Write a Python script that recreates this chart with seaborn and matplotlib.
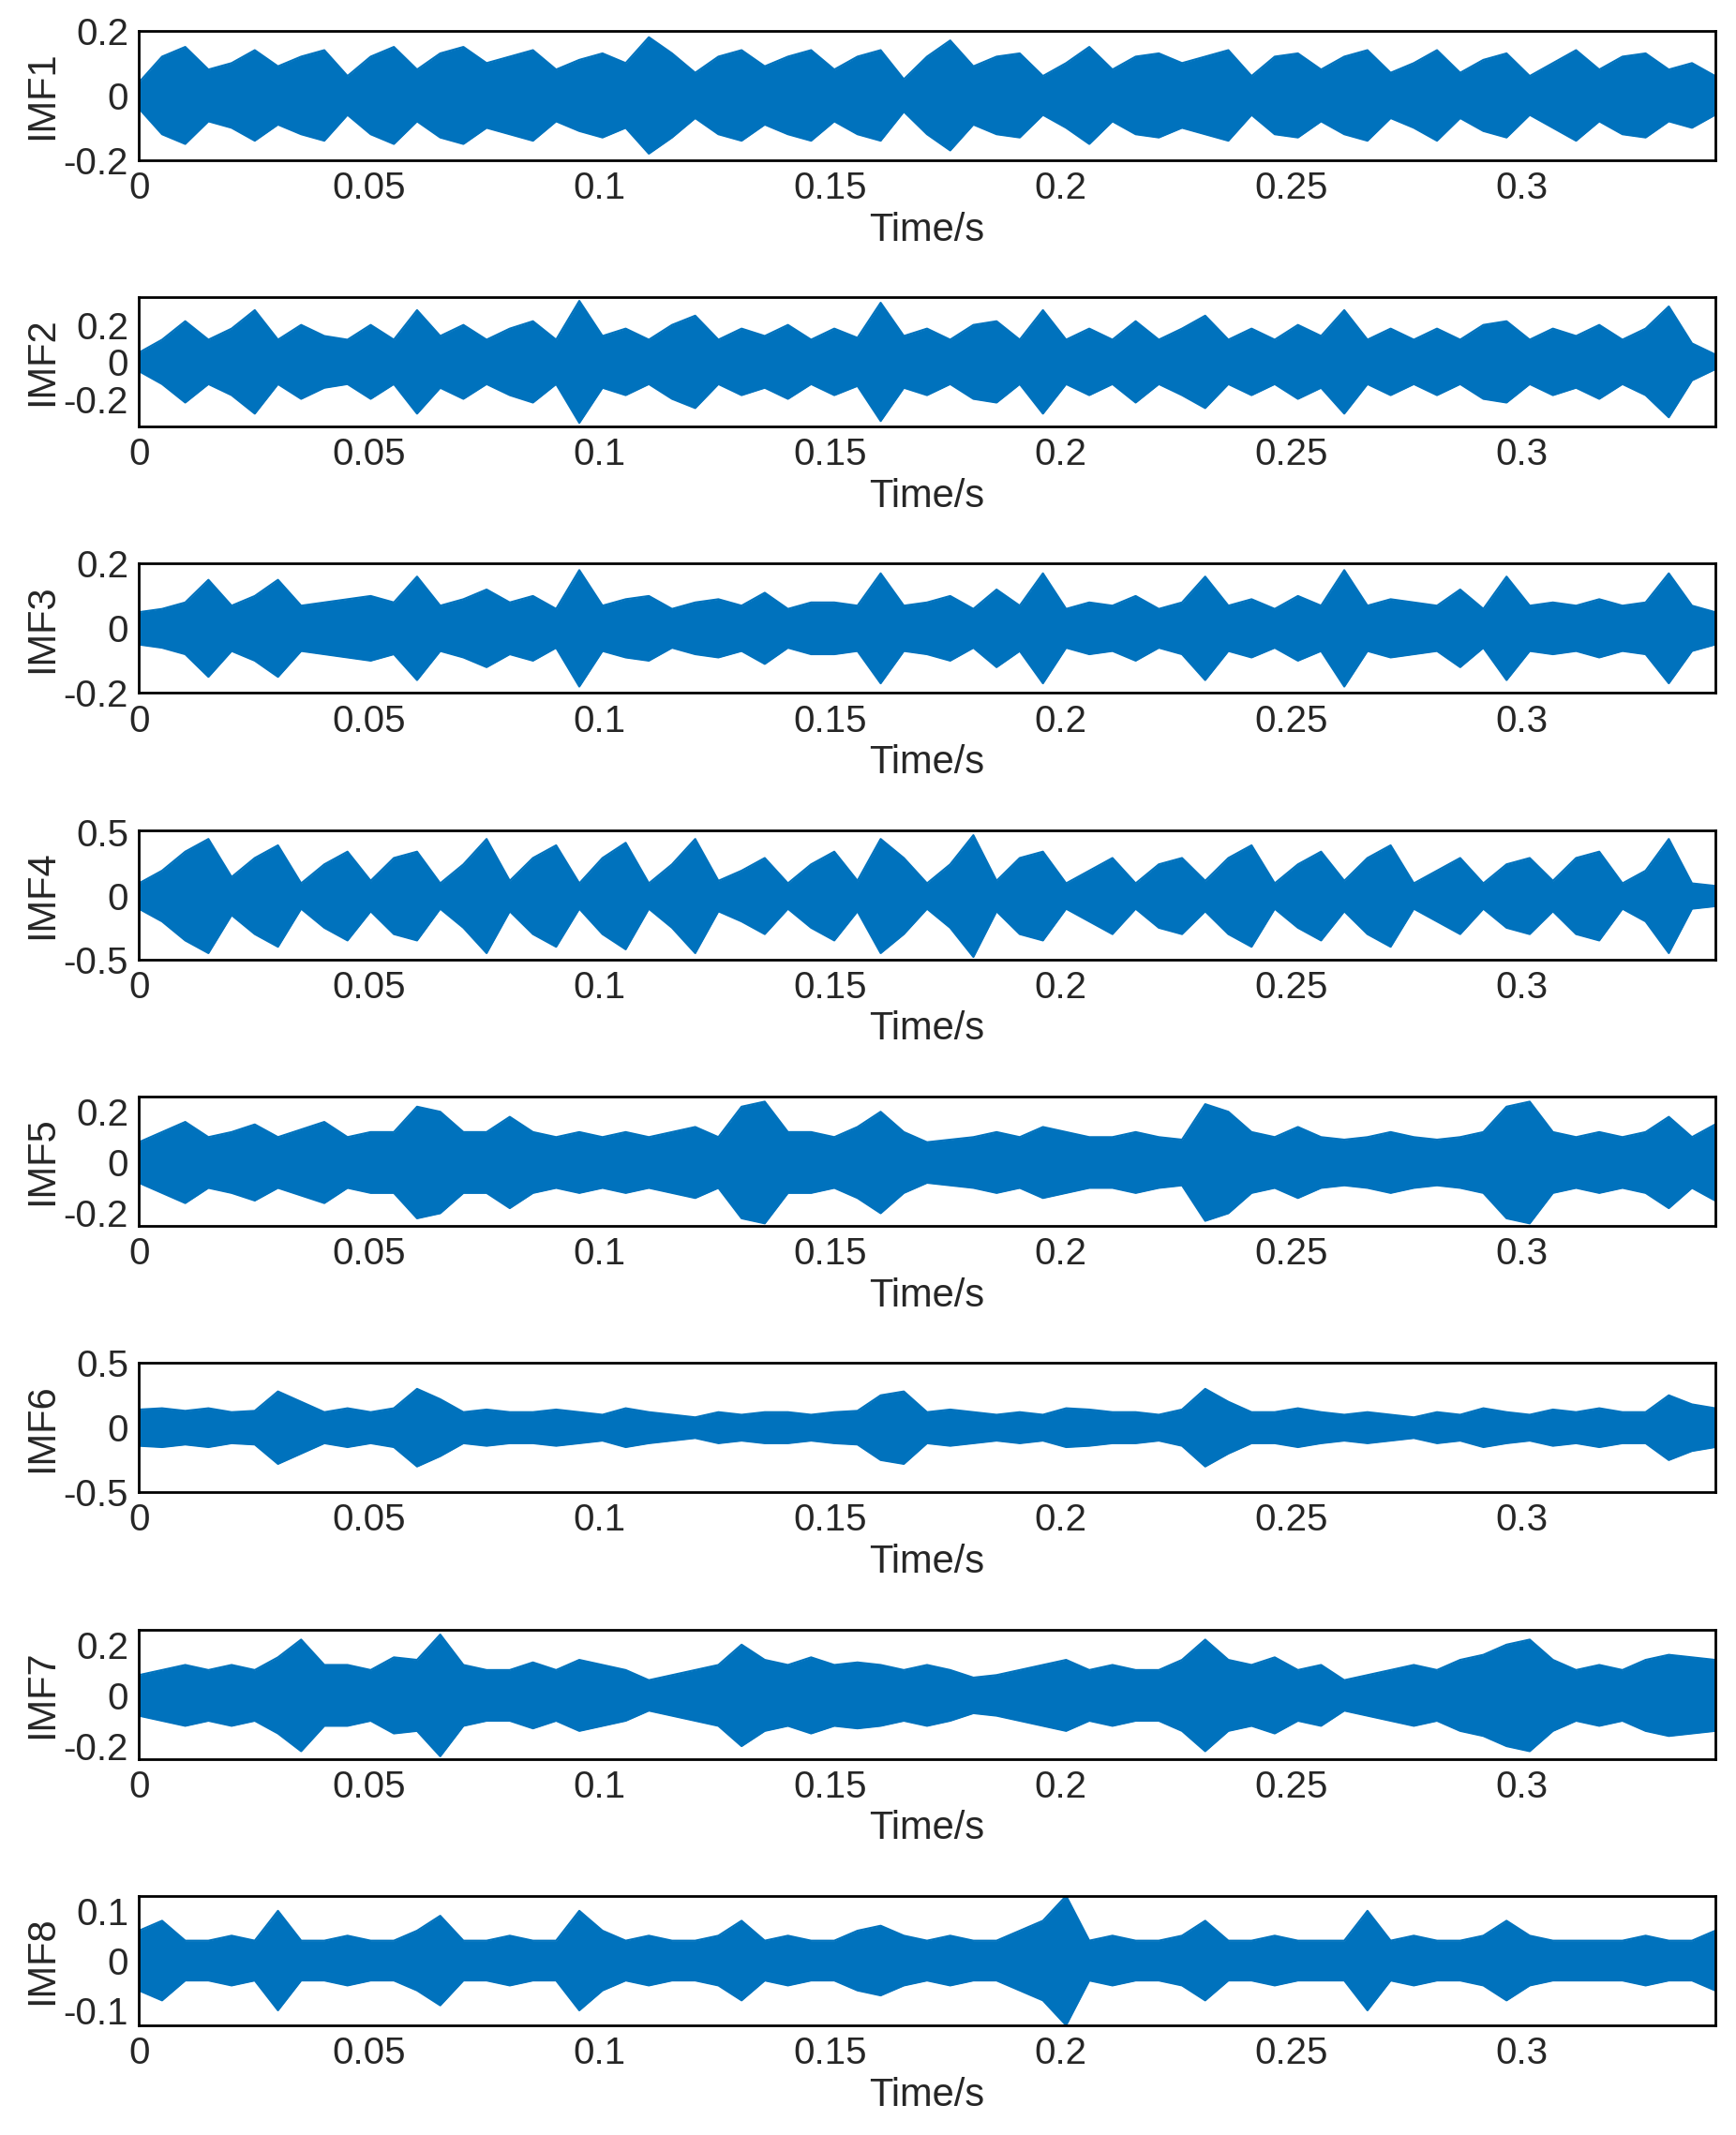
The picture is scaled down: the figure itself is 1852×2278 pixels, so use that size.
import numpy as np
import matplotlib
matplotlib.use('Agg')
import matplotlib.pyplot as plt
import seaborn as sns

sns.set_style('white')
plt.rcParams['font.family'] = ['Liberation Sans', 'DejaVu Sans']

# envelope amplitude read every 0.005 s (0 .. 0.34 s)
imf1 = [0.04,0.12,0.15,0.08,0.10,0.14,0.09,0.12,0.14,0.06,0.12,0.15,0.08,0.13,0.15,0.10,0.12,0.14,0.08,0.11,
        0.13,0.10,0.18,0.13,0.07,0.12,0.14,0.09,0.12,0.14,0.08,0.12,0.14,0.05,0.12,0.17,0.09,0.12,0.13,0.06,
        0.10,0.15,0.08,0.12,0.13,0.10,0.12,0.14,0.06,0.12,0.13,0.08,0.12,0.14,0.07,0.10,0.14,0.07,0.11,0.13,
        0.06,0.10,0.14,0.08,0.12,0.13,0.08,0.10,0.06]
imf2 = [0.05,0.12,0.22,0.12,0.18,0.28,0.12,0.20,0.14,0.12,0.20,0.12,0.28,0.14,0.20,0.12,0.18,0.22,0.12,0.33,
        0.14,0.18,0.12,0.20,0.25,0.12,0.18,0.14,0.20,0.12,0.18,0.13,0.32,0.14,0.18,0.12,0.20,0.22,0.12,0.28,
        0.12,0.18,0.12,0.22,0.12,0.18,0.25,0.12,0.18,0.12,0.20,0.14,0.28,0.12,0.18,0.12,0.18,0.12,0.20,0.22,
        0.12,0.18,0.14,0.20,0.12,0.18,0.30,0.10,0.04]
imf3 = [0.05,0.06,0.08,0.15,0.07,0.10,0.15,0.07,0.08,0.09,0.10,0.08,0.16,0.07,0.09,0.12,0.08,0.10,0.06,0.18,
        0.07,0.09,0.10,0.06,0.08,0.09,0.07,0.11,0.06,0.08,0.08,0.07,0.17,0.07,0.08,0.10,0.06,0.12,0.07,0.17,
        0.06,0.08,0.07,0.10,0.06,0.08,0.16,0.07,0.09,0.06,0.10,0.07,0.18,0.07,0.09,0.08,0.07,0.12,0.06,0.16,
        0.07,0.08,0.07,0.09,0.07,0.08,0.17,0.07,0.05]
imf4 = [0.10,0.20,0.35,0.45,0.15,0.30,0.40,0.10,0.25,0.35,0.12,0.30,0.35,0.10,0.25,0.45,0.12,0.30,0.40,0.10,
        0.30,0.42,0.10,0.25,0.45,0.12,0.20,0.30,0.10,0.25,0.35,0.12,0.45,0.30,0.10,0.25,0.48,0.12,0.30,0.35,
        0.10,0.20,0.30,0.10,0.25,0.30,0.12,0.30,0.40,0.10,0.25,0.35,0.12,0.30,0.40,0.10,0.20,0.30,0.10,0.25,
        0.30,0.12,0.30,0.35,0.10,0.20,0.45,0.10,0.08]
imf5 = [0.08,0.12,0.16,0.10,0.12,0.15,0.10,0.13,0.16,0.10,0.12,0.12,0.22,0.20,0.12,0.12,0.18,0.12,0.10,0.12,
        0.10,0.12,0.10,0.12,0.14,0.10,0.22,0.24,0.12,0.12,0.10,0.14,0.20,0.12,0.08,0.09,0.10,0.12,0.10,0.14,
        0.12,0.10,0.10,0.12,0.10,0.09,0.23,0.20,0.12,0.10,0.14,0.10,0.09,0.10,0.12,0.10,0.09,0.10,0.12,0.22,
        0.24,0.12,0.10,0.12,0.10,0.12,0.18,0.10,0.15]
imf6 = [0.14,0.15,0.13,0.15,0.12,0.13,0.28,0.20,0.12,0.15,0.12,0.15,0.30,0.22,0.12,0.14,0.12,0.12,0.14,0.12,
        0.10,0.15,0.12,0.10,0.08,0.12,0.10,0.12,0.12,0.10,0.12,0.13,0.25,0.28,0.12,0.14,0.12,0.10,0.12,0.10,
        0.15,0.14,0.12,0.12,0.10,0.14,0.30,0.20,0.12,0.12,0.15,0.12,0.10,0.12,0.10,0.08,0.12,0.10,0.15,0.12,
        0.10,0.14,0.12,0.15,0.12,0.12,0.25,0.18,0.15]
imf7 = [0.08,0.10,0.12,0.10,0.12,0.10,0.15,0.22,0.12,0.12,0.10,0.15,0.14,0.24,0.12,0.10,0.10,0.13,0.10,0.14,
        0.12,0.10,0.06,0.08,0.10,0.12,0.20,0.14,0.12,0.15,0.12,0.13,0.12,0.10,0.12,0.10,0.07,0.08,0.10,0.12,
        0.14,0.10,0.12,0.10,0.10,0.14,0.22,0.14,0.12,0.15,0.10,0.12,0.06,0.08,0.10,0.12,0.10,0.14,0.16,0.20,
        0.22,0.14,0.10,0.12,0.10,0.14,0.16,0.15,0.14]
imf8 = [0.06,0.08,0.04,0.04,0.05,0.04,0.10,0.04,0.04,0.05,0.04,0.04,0.06,0.09,0.04,0.04,0.05,0.04,0.04,0.10,
        0.06,0.04,0.05,0.04,0.04,0.05,0.08,0.04,0.05,0.04,0.04,0.06,0.07,0.05,0.04,0.05,0.04,0.04,0.06,0.08,
        0.13,0.04,0.05,0.04,0.04,0.05,0.08,0.04,0.04,0.05,0.04,0.04,0.04,0.10,0.04,0.05,0.04,0.04,0.05,0.08,
        0.05,0.04,0.04,0.04,0.04,0.05,0.04,0.04,0.06]

signals = [imf1, imf2, imf3, imf4, imf5, imf6, imf7, imf8]
names = ['IMF1', 'IMF2', 'IMF3', 'IMF4', 'IMF5', 'IMF6', 'IMF7', 'IMF8']
ylims = [(-0.2, 0.2), (-0.35, 0.35), (-0.2, 0.2), (-0.5, 0.52), (-0.25, 0.26), (-0.5, 0.5), (-0.25, 0.26), (-0.13, 0.13)]
yticks = [[-0.2, 0, 0.2], [-0.2, 0, 0.2], [-0.2, 0, 0.2], [-0.5, 0, 0.5], [-0.2, 0, 0.2], [-0.5, 0, 0.5], [-0.2, 0, 0.2], [-0.1, 0, 0.1]]
xticks = [0, 0.05, 0.1, 0.15, 0.2, 0.25, 0.3]
color = '#0072BD'

fig = plt.figure(figsize=(18.52, 22.78), dpi=100)
for i, sig in enumerate(signals):
    ax = fig.add_axes([0.080, 0.925 - i * 0.1248, 0.908, 0.0606])
    amp = np.array(sig)
    t = np.linspace(0, 0.342, len(amp))
    ax.fill_between(t, -amp, amp, color=color, lw=0)
    sns.lineplot(x=t, y=amp, ax=ax, color=color, lw=1.5)
    sns.lineplot(x=t, y=-amp, ax=ax, color=color, lw=1.5)
    ax.set_xlim(0, 0.342)
    ax.set_ylim(*ylims[i])
    ax.set_yticks(yticks[i])
    ax.set_yticklabels(['%g' % v for v in yticks[i]])
    ax.set_xticks(xticks)
    ax.set_xticklabels(['%g' % v for v in xticks])
    ax.tick_params(labelsize=29, direction='in', length=6, pad=8)
    ax.set_xlabel('Time/s', fontsize=30, labelpad=4)
    ax.set_ylabel(names[i], fontsize=30, labelpad=2)
    for s in ax.spines.values():
        s.set_linewidth(2)
        s.set_color('black')

fig.savefig('out.png', dpi=100)
